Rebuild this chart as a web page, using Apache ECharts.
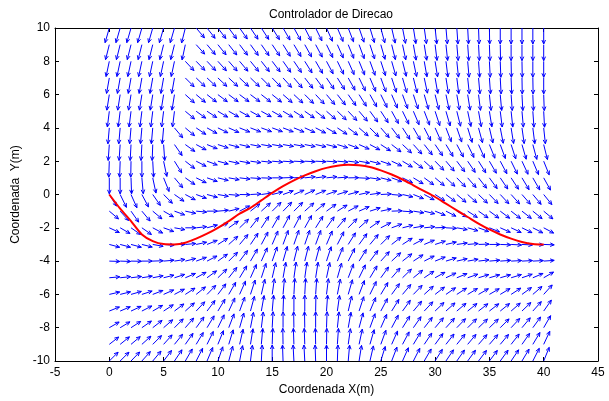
<!DOCTYPE html>
<html>
<head>
<meta charset="utf-8">
<title>Controlador de Direcao</title>
<script src="https://cdn.jsdelivr.net/npm/echarts@6/dist/echarts.min.js"></script>
<style>
html, body { margin: 0; padding: 0; background: #fff; }
#myChart { width: 609px; height: 401px; }
</style>
</head>
<body>
<div id="myChart"></div>
<script>
// grid of the vector field
var colX = [0,1,2,3,4,5,6,7,8,9,10,11,12,13,14,15,16,17,18,19,20,21,22,23,24,25,26,27,28,29,30,31,32,33,34,35,36,37,38,39,40];
var rowY = [10,9,8,7,6,5,4,3,2,1,0,-1,-2,-3,-4,-5,-6,-7,-8,-9,-10];

// arrow direction (degrees, as seen on screen, 0 = right, 90 = up), one row per rowY
var angRows = [
  [-106,-106,-106,-106,-106,-106,-106,-104,-50,-52,-53,-54,-55,-56,-57,-58,-60,-61,-63,-64,-66,-67,-69,-71,-73,-75,-77,-79,-81,-82,-84,-85,-86,-87,-88,-89,-90,-90,-90,-90,-90],
  [-104,-104,-104,-104,-104,-104,-104,-102,-48,-50,-51,-52,-53,-54,-55,-56,-58,-59,-61,-62,-64,-66,-68,-70,-72,-74,-76,-78,-80,-81,-83,-84,-85,-86,-87,-88,-89,-90,-90,-90,-90],
  [-102,-102,-102,-102,-102,-102,-102,-47,-46,-47,-48,-49,-50,-51,-52,-53,-55,-56,-58,-60,-62,-64,-66,-68,-70,-72,-74,-76,-78,-80,-81,-83,-84,-85,-86,-87,-88,-89,-89,-90,-90],
  [-100,-100,-100,-100,-100,-100,-100,-45,-44,-43,-43,-43,-43,-44,-45,-46,-48,-50,-52,-54,-56,-58,-61,-64,-67,-70,-72,-74,-76,-78,-80,-81,-83,-84,-85,-86,-87,-88,-89,-89,-90],
  [-99,-99,-99,-99,-99,-99,-99,-42,-40,-38,-37,-37,-37,-37,-38,-39,-41,-43,-45,-47,-50,-52,-55,-58,-61,-64,-67,-70,-72,-74,-76,-78,-80,-81,-83,-84,-85,-86,-87,-88,-88],
  [-97,-97,-97,-97,-97,-97,-97,-40,-36,-33,-31,-30,-29,-29,-29,-30,-31,-33,-35,-38,-41,-44,-47,-50,-54,-57,-61,-64,-67,-69,-72,-74,-76,-78,-80,-81,-83,-84,-85,-86,-87],
  [-95,-95,-95,-95,-95,-95,-50,-40,-34,-29,-26,-24,-22,-21,-20,-20,-21,-22,-24,-27,-30,-33,-37,-41,-45,-49,-53,-57,-60,-63,-66,-69,-71,-73,-75,-77,-79,-81,-82,-83,-84],
  [-94,-94,-93,-93,-92,-86,-55,-36,-28,-22,-18,-15,-13,-11,-10,-10,-10,-10,-11,-12,-14,-17,-20,-24,-28,-33,-38,-43,-48,-52,-56,-59,-62,-64,-66,-68,-70,-72,-74,-75,-76],
  [-92,-92,-91,-90,-87,-78,-58,-38,-27,-20,-15,-12,-10,-8,-6,-5,-4,-3,-3,-3,-4,-5,-7,-10,-14,-19,-25,-31,-37,-42,-46,-50,-53,-56,-58,-60,-62,-64,-65,-67,-68],
  [-90,-90,-88,-85,-78,-68,-50,-35,-26,-19,-14,-10,-7,-4,-2,0,2,4,6,7,6,4,1,-3,-8,-14,-20,-26,-31,-36,-40,-43,-46,-49,-52,-54,-56,-57,-59,-60,-61],
  [-58,-64,-66,-62,-55,-45,-35,-28,-20,-15,-10,-5,-1,3,8,14,20,23,24,22,19,17,15,12,8,3,-5,-13,-22,-28,-33,-37,-40,-42,-44,-46,-47,-48,-49,-50,-51],
  [-40,-48,-55,-50,-40,-30,-20,-12,-5,0,5,14,28,38,42,45,46,45,42,40,36,32,28,24,18,12,2,-4,-9,-14,-22,-27,-30,-33,-35,-36,-37,-38,-38,-39,-40],
  [-25,-30,-35,-35,-28,-20,-10,0,6,15,25,35,44,52,57,60,62,62,61,58,55,50,46,42,35,27,20,14,10,6,2,-3,-10,-16,-20,-22,-24,-25,-26,-27,-28],
  [-15,-15,-15,-14,-10,-5,0,5,12,22,32,42,50,56,62,67,70,71,71,70,67,63,58,54,50,45,38,33,28,23,18,13,8,5,2,0,-2,-3,-3,-2,-2],
  [-2,-2,-1,0,2,5,9,14,20,27,36,45,53,60,66,71,74,76,76,75,72,68,63,58,53,48,43,38,33,27,22,17,13,10,7,5,4,3,3,3,4],
  [5,6,7,9,11,14,18,23,29,36,44,52,59,66,72,77,80,82,82,81,78,74,69,64,59,54,49,44,39,34,29,25,22,19,17,16,16,17,19,23,30],
  [13,14,16,18,21,24,28,33,39,46,53,60,66,72,77,82,85,87,87,86,83,79,74,69,64,59,54,50,46,42,38,35,33,31,30,30,31,33,36,41,48],
  [22,23,25,27,30,33,37,42,47,53,59,65,70,75,80,85,88,90,90,89,86,82,77,72,67,62,58,54,50,47,44,42,40,39,38,38,39,41,44,48,55],
  [30,31,33,35,38,41,45,49,54,59,64,69,74,79,83,87,90,91,91,90,88,84,80,75,70,66,62,58,55,52,50,48,46,45,44,44,45,47,50,54,60],
  [38,39,40,42,45,48,51,55,59,64,68,73,77,81,85,88,91,92,92,91,89,86,82,78,74,70,66,62,59,56,54,52,51,50,49,49,50,52,55,59,65],
  [45,45,46,48,50,53,56,60,63,67,71,75,79,83,87,90,92,93,93,92,90,88,85,81,77,73,69,66,63,60,58,56,55,54,53,53,54,56,59,63,68]
];

// red trajectory
var pathX = [0,1,2,3,4,5,6,7,8,9,10,11,12,13,14,15,16,17,18,19,20,21,22,23,24,25,26,27,28,29,30,31,32,33,34,35,36,37,38,39,40];
var pathY = [0,-0.85,-1.6,-2.4,-2.8,-2.98,-3.0,-2.9,-2.65,-2.35,-2.0,-1.6,-1.15,-0.8,-0.35,0.1,0.5,0.85,1.15,1.4,1.6,1.72,1.78,1.75,1.65,1.45,1.2,0.9,0.55,0.2,-0.15,-0.55,-0.95,-1.35,-1.75,-2.1,-2.4,-2.65,-2.85,-2.97,-3.0];

// axis ticks
var xTicks = [-5,0,5,10,15,20,25,30,35,40,45];
var yTicks = [-10,-8,-6,-4,-2,0,2,4,6,8,10];

var fieldData = [];
for (var i = 0; i < rowY.length; i++) {
  for (var j = 0; j < colX.length; j++) {
    fieldData.push([colX[j], rowY[i], angRows[i][j]]);
  }
}
var pathData = pathX.map(function (x, k) { return [x, pathY[k]]; });

var font = "'Liberation Sans', Arial, Helvetica, sans-serif";
var blue = '#0000ff';

function renderArrow(params, api) {
  var p = api.coord([api.value(0), api.value(1)]);
  var a = api.value(2) * Math.PI / 180;
  var c = Math.cos(a), s = Math.sin(a);
  // quiver arrows are about one grid step long in data units
  var len = 1 / Math.sqrt((c / 10.5) * (c / 10.5) + (s / 16) * (s / 16));
  var tip = [p[0] + len * c, p[1] - len * s];
  var h = 4, w = 1.8;
  var bx = tip[0] - h * c, by = tip[1] + h * s;
  var left = [bx + w * s, by + w * c];
  var right = [bx - w * s, by - w * c];
  var st = { stroke: blue, lineWidth: 1, fill: null };
  return {
    type: 'group',
    children: [
      { type: 'polyline', shape: { points: [p, tip] }, style: st },
      { type: 'polyline', shape: { points: [left, tip, right] }, style: st }
    ]
  };
}

var axisCommon = {
  type: 'value',
  axisLine: { show: true, onZero: false, lineStyle: { color: '#000', width: 1 } },
  axisTick: { show: true, inside: true, length: 4, lineStyle: { color: '#000' } },
  splitLine: { show: false }
};

var myChart = echarts.init(document.getElementById('myChart'));
var option = {
  animation: false,
  backgroundColor: '#fff',
  title: {
    text: 'Controlador de Direcao',
    left: 326, top: 4, textAlign: 'center',
    textStyle: { fontFamily: font, fontSize: 12, fontWeight: 'normal', color: '#000' }
  },
  grid: { left: 55, right: 11, top: 28, bottom: 39 },
  xAxis: [
    Object.assign({}, axisCommon, {
      min: xTicks[0], max: xTicks[xTicks.length - 1], interval: 5,
      position: 'bottom',
      name: 'Coordenada X(m)', nameLocation: 'middle', nameGap: 23,
      nameTextStyle: { fontFamily: font, fontSize: 12, color: '#000' },
      axisLabel: { fontFamily: font, fontSize: 12, color: '#000', margin: 6 }
    }),
    Object.assign({}, axisCommon, {
      min: xTicks[0], max: xTicks[xTicks.length - 1], interval: 5,
      position: 'top', axisLabel: { show: false }
    })
  ],
  yAxis: [
    Object.assign({}, axisCommon, {
      min: yTicks[0], max: yTicks[yTicks.length - 1], interval: 2,
      position: 'left',
      name: 'Coordenada  Y(m)', nameLocation: 'middle', nameGap: 31,
      nameTextStyle: { fontFamily: font, fontSize: 12, color: '#000' },
      axisLabel: { fontFamily: font, fontSize: 12, color: '#000', margin: 5 }
    }),
    Object.assign({}, axisCommon, {
      min: yTicks[0], max: yTicks[yTicks.length - 1], interval: 2,
      position: 'right', axisLabel: { show: false }
    })
  ],
  series: [
    {
      name: 'campo',
      type: 'custom',
      renderItem: renderArrow,
      data: fieldData,
      encode: { x: 0, y: 1 },
      clip: false,
      silent: true,
      z: 2
    },
    {
      name: 'trajetoria',
      type: 'line',
      data: pathData,
      smooth: 0.3,
      showSymbol: false,
      lineStyle: { color: '#ff0000', width: 2 },
      z: 3
    }
  ]
};
myChart.setOption(option);
</script>
</body>
</html>
